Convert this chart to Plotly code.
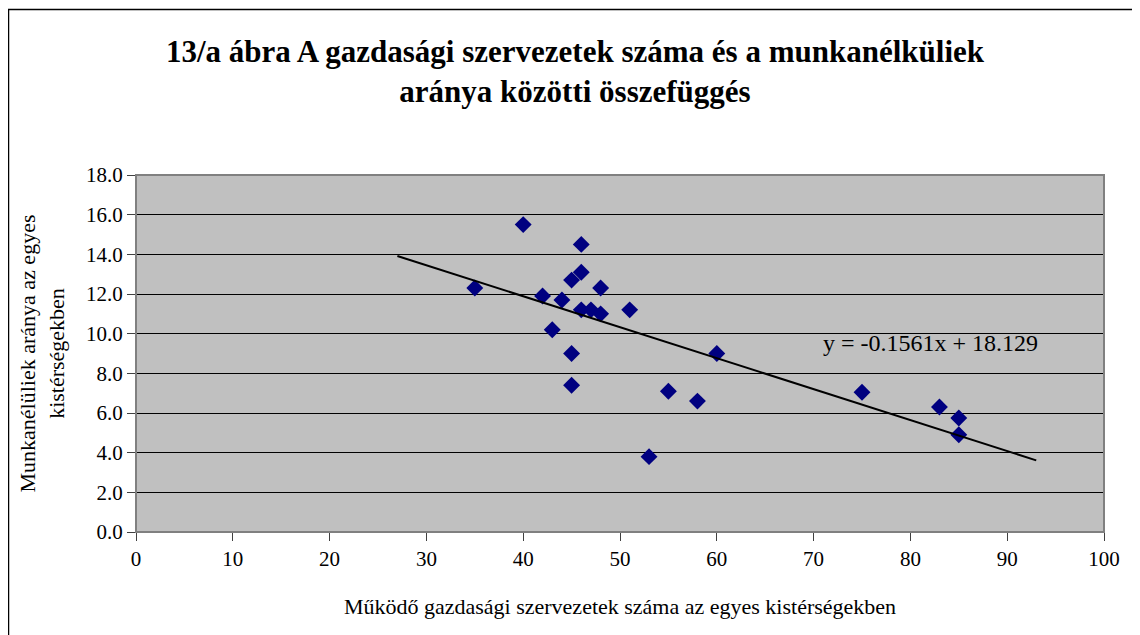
import plotly.graph_objects as go

# Data
x_vals = [35, 40, 42, 43, 44, 45, 45, 45, 46, 46, 46, 47, 48, 48, 51, 53, 55, 58, 60, 75, 83, 85, 85]
y_vals = [12.3, 15.5, 11.9, 10.2, 11.7, 12.7, 9.0, 7.4, 14.5, 13.1, 11.2, 11.2, 12.3, 11.0, 11.2, 3.8, 7.1, 6.6, 9.0, 7.05, 6.3, 5.75, 4.9]
trend_slope = -0.1561
trend_intercept = 18.129
trend_x = [27, 93]
x_ticks = [0, 10, 20, 30, 40, 50, 60, 70, 80, 90, 100]
y_ticks = [0, 2, 4, 6, 8, 10, 12, 14, 16, 18]

trend_y = [trend_slope * v + trend_intercept for v in trend_x]

FONT = "Liberation Serif, Times New Roman, serif"

fig = go.Figure()
fig.add_trace(go.Scatter(
    x=x_vals, y=y_vals, mode="markers",
    marker=dict(symbol="diamond", size=13, color="#000080", line=dict(width=0)),
    showlegend=False, hoverinfo="x+y"))
fig.add_trace(go.Scatter(
    x=trend_x, y=trend_y, mode="lines",
    line=dict(color="black", width=2), showlegend=False, hoverinfo="skip"))

# page is offset by the 8px body margin, so figure coords = page coords - 8
OFF = 8
L, R, T, B = 136 - OFF, 1104 - OFF, 175 - OFF, 532 - OFF
W, H = 1140, 635
pw, ph = R - L, B - T

def px2x(p):
    return (p - OFF - L) / pw

def py2y(p):
    return (B - (p - OFF)) / ph

fig.update_layout(
    width=W, height=H,
    margin=dict(l=L, r=W - R, t=T, b=H - B, pad=0),
    paper_bgcolor="white", plot_bgcolor="#c0c0c0",
    font=dict(family=FONT, color="black", size=21),
    title=dict(
        text="<b>13/a ábra A gazdasági szervezetek száma és a munkanélküliek<br>aránya közötti összefüggés</b>",
        x=(575 - OFF) / W, xanchor="center", y=1 - (62 - OFF) / H, yanchor="middle",
        font=dict(family=FONT, size=31, color="black")),
    xaxis=dict(
        range=[0, 100], tickvals=x_ticks, ticktext=[str(v) for v in x_ticks],
        showgrid=False, zeroline=False, ticks="outside", ticklen=8, tickcolor="#404040",
        showline=True, linecolor="#404040", linewidth=1, mirror=False,
        tickfont=dict(family=FONT, size=21), title=dict(
            text="Működő gazdasági szervezetek száma az egyes kistérségekben",
            font=dict(family=FONT, size=22), standoff=28)),
    yaxis=dict(
        range=[0, 18], tickvals=y_ticks, ticktext=["%.1f" % v for v in y_ticks],
        showgrid=True, gridcolor="black", gridwidth=1, zeroline=False,
        ticks="outside", ticklen=8, tickcolor="#404040",
        showline=True, linecolor="#404040", linewidth=1,
        tickfont=dict(family=FONT, size=21), title=dict(
            text="Munkanélüliek aránya az egyes<br>kistérségekben",
            font=dict(family=FONT, size=22), standoff=15)),
    annotations=[dict(
        x=px2x(930), y=py2y(343), xref="paper", yref="paper",
        text="y = -0.1561x + 18.129", showarrow=False,
        font=dict(family=FONT, size=24, color="black"), xanchor="center", yanchor="middle")],
    shapes=[
        dict(type="rect", xref="paper", yref="paper", x0=0, x1=1, y0=0, y1=1,
             line=dict(color="#808080", width=2), fillcolor="rgba(0,0,0,0)", layer="above"),
        dict(type="rect", xref="paper", yref="paper",
             x0=px2x(8.5), x1=px2x(1160), y0=py2y(660), y1=py2y(9.5),
             line=dict(color="black", width=1.5), fillcolor="rgba(0,0,0,0)"),
    ],
)

fig.write_html("out.html")
